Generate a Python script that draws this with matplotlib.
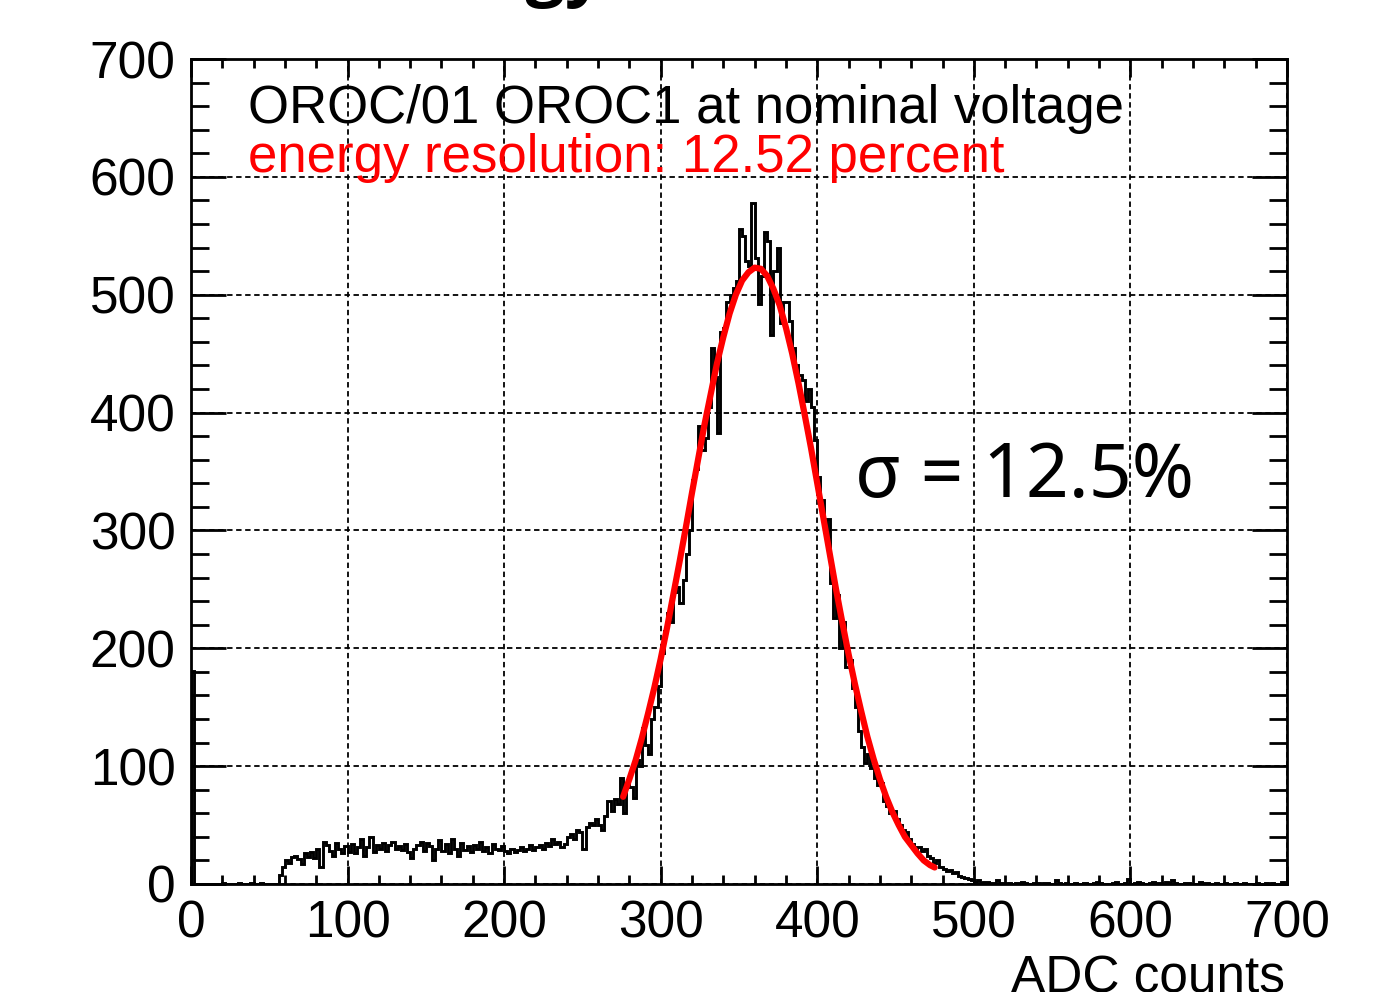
import numpy as np
import matplotlib
matplotlib.use('Agg')
import matplotlib.pyplot as plt
from matplotlib.ticker import MultipleLocator

# histogram of ADC counts, 2 ADC per bin from 0 to 700
bin_edges = np.arange(0, 702, 2)
counts = [
    181, 0, 0, 0, 0, 0, 0, 0, 0, 0,
    1, 0, 0, 0, 0, 1, 0, 0, 0, 1,
    0, 0, 1, 0, 0, 0, 0, 0, 8, 14,
    20, 18, 23, 24, 21, 17, 26, 23, 27, 22,
    30, 14, 36, 33, 28, 24, 35, 30, 26, 32,
    27, 34, 26, 31, 38, 24, 31, 40, 27, 33,
    30, 35, 28, 33, 36, 30, 32, 29, 34, 27,
    22, 30, 33, 36, 28, 35, 32, 20, 30, 37,
    28, 34, 26, 38, 30, 24, 35, 29, 32, 27,
    33, 30, 36, 28, 31, 26, 34, 30, 29, 32,
    28, 26, 30, 27, 29, 31, 28, 30, 33, 29,
    31, 33, 30, 35, 32, 38, 34, 36, 31, 34,
    40, 42, 38, 46, 44, 30, 48, 52, 50, 55,
    50, 46, 58, 70, 62, 72, 68, 90, 60, 84,
    82, 73, 105, 100, 132, 118, 110, 140, 150, 168,
    196, 215, 230, 222, 248, 252, 238, 258, 280, 300,
    343, 352, 389, 368, 378, 405, 455, 430, 383, 468,
    472, 494, 500, 506, 512, 556, 550, 529, 524, 578,
    531, 492, 516, 553, 546, 466, 520, 540, 476, 494,
    494, 478, 455, 440, 432, 428, 410, 420, 405, 377,
    345, 326, 300, 310, 255, 226, 245, 200, 222, 184,
    190, 166, 150, 130, 116, 103, 110, 98, 90, 84,
    86, 70, 66, 60, 62, 55, 50, 46, 44, 38,
    34, 30, 31, 28, 30, 24, 22, 18, 20, 14,
    13, 11, 12, 9, 10, 7, 6, 5, 4, 3,
    2, 3, 1, 2, 2, 1, 1, 3, 1, 1,
    0, 1, 0, 1, 1, 2, 1, 0, 0, 1,
    1, 0, 1, 1, 0, 0, 3, 1, 0, 1,
    0, 0, 1, 0, 0, 1, 0, 0, 1, 2,
    1, 0, 0, 0, 1, 2, 0, 0, 1, 4,
    0, 1, 2, 1, 0, 0, 1, 2, 1, 1,
    0, 2, 1, 3, 1, 0, 0, 1, 1, 0,
    0, 0, 2, 1, 1, 0, 0, 1, 0, 0,
    1, 0, 0, 1, 0, 0, 1, 0, 0, 0,
    1, 0, 0, 1, 0, 1, 0, 0, 2, 0,
]

# red gaussian fit
fit_x = [276, 280, 284, 288, 292, 296, 300, 304, 308, 312, 316, 320, 324, 328, 332,
         336, 340, 344, 348, 352, 356, 360, 364, 368, 372, 376, 380, 384, 388, 392,
         396, 400, 404, 408, 412, 416, 420, 424, 428, 432, 436, 440, 444, 448, 452,
         456, 460, 464, 468, 472, 475]
fit_y = [74, 89, 105, 124, 145, 167, 191, 217, 245, 273, 302, 332, 361, 390, 416,
         442, 464, 484, 500, 512, 519, 523, 522, 516, 505, 491, 472, 450, 425, 398,
         370, 340, 310, 280, 250, 222, 195, 170, 147, 125, 106, 89, 74, 61, 50,
         40, 33, 26, 20, 16, 14]

title_line = "OROC/01 OROC1 at nominal voltage"
res_line = "energy resolution: 12.52 percent"
sigma_note = "σ = 12.5%"

plt.rcParams['font.family'] = ['Liberation Sans', 'DejaVu Sans']

fig = plt.figure(figsize=(13.81, 9.92), dpi=100)
ax = fig.add_axes([0.1383, 0.1089, 0.7936, 0.8316])

ax.stairs(counts, bin_edges, color='black', lw=2.1)
ax.plot(fit_x, fit_y, color='#ff0000', lw=4.5, solid_capstyle='round')

ax.set_xlim(0, 700)
ax.set_ylim(0, 700)
ax.xaxis.set_major_locator(MultipleLocator(100))
ax.xaxis.set_minor_locator(MultipleLocator(20))
ax.yaxis.set_major_locator(MultipleLocator(100))
ax.yaxis.set_minor_locator(MultipleLocator(20))
ax.grid(True, which='major', color='black', ls=(0, (3, 2)), lw=1.3)

ax.tick_params(axis='both', which='both', direction='in', top=True, right=True,
               labelsize=37, width=2, color='black')
ax.tick_params(axis='x', which='major', length=13, pad=11)
ax.tick_params(axis='x', which='minor', length=6.5)
ax.tick_params(axis='y', which='major', length=25, pad=11)
ax.tick_params(axis='y', which='minor', length=13)
for s in ax.spines.values():
    s.set_linewidth(2)

ax.text(36.4, 646, title_line, fontsize=38, color='black', va='baseline')
ax.text(36.4, 604, res_line, fontsize=38, color='#ff0000', va='baseline')
ax.text(424, 328, sigma_note, fontsize=54, color='black', va='baseline',
        family=['Noto Sans', 'DejaVu Sans'])

fig.text(0.9305, -0.001, "ADC counts", fontsize=37, ha='right', va='baseline')
# slide title above the chart, only the tail of it shows
fig.text(605 / 1381, 1 + 8 / 992, "Energy", fontsize=50, fontweight='bold',
         ha='right', va='baseline', family=['Open Sans', 'DejaVu Sans'])

fig.savefig('out.png', dpi=100)
